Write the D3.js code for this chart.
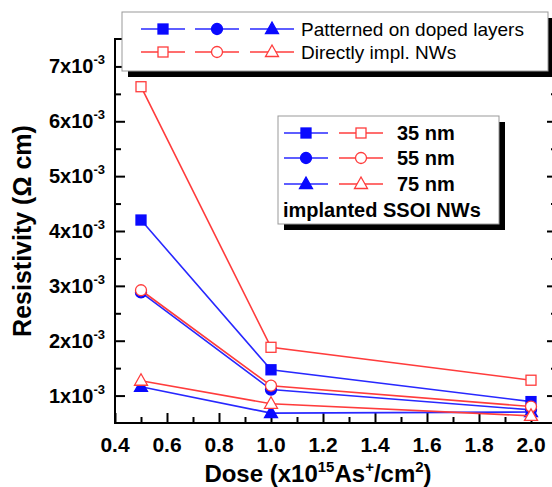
<!DOCTYPE html>
<html>
<head>
<meta charset="utf-8">
<script src="https://cdn.jsdelivr.net/npm/d3@7"></script>
<style>
  body { margin: 0; background: #fff; }
  svg { display: block; font-family: "Liberation Sans", Arial, sans-serif; }
</style>
</head>
<body>
<svg id="chart" width="552" height="487"></svg>
<script>
/******************** Data (resistivity in units of 1e-3 Ohm cm) ********************/
var dose = [0.5, 1.0, 2.0];
var pat35 = [4.20, 1.47, 0.89];
var pat55 = [2.88, 1.11, 0.74];
var pat75 = [1.16, 0.68, 0.70];
var dir35 = [6.63, 1.88, 1.28];
var dir55 = [2.92, 1.18, 0.80];
var dir75 = [1.27, 0.85, 0.63];

var xTicks = [0.4, 0.6, 0.8, 1.0, 1.2, 1.4, 1.6, 1.8, 2.0];
var yTicks = [1, 2, 3, 4, 5, 6, 7];

var BLUE = "#2828ff", BLUE_M = "#0a0aff", RED = "#ff3c3c";

var series = [
  { name: "p35", vals: pat35, color: BLUE, mark: "square", filled: true },
  { name: "p55", vals: pat55, color: BLUE, mark: "circle", filled: true },
  { name: "p75", vals: pat75, color: BLUE, mark: "triangle", filled: true },
  { name: "d35", vals: dir35, color: RED, mark: "square", filled: false },
  { name: "d55", vals: dir55, color: RED, mark: "circle", filled: false },
  { name: "d75", vals: dir75, color: RED, mark: "triangle", filled: false }
];

/******************** Scales ********************/
var svg = d3.select("#chart");
var pL = 115, pR = 557, pT = 39, pB = 423;
var x = d3.scaleLinear().domain([0.4, 2.1]).range([pL, pR]);
var y = d3.scaleLinear().domain([0.5, 7.5]).range([pB, pT]);

/******************** Frame and ticks ********************/
var minorX = d3.range(0.5, 2.1, 0.2).map(function(v){ return +v.toFixed(1); });
var minorY = d3.range(1.5, 7.5, 1);

function styleAxis(g) {
  g.select(".domain").remove();
  g.selectAll("line").attr("stroke", "#000").attr("stroke-width", 2);
  g.selectAll("text").remove();
}

svg.append("g").attr("transform", "translate(0," + pB + ")")
  .call(d3.axisBottom(x).tickValues(xTicks).tickSize(-10)).call(styleAxis);
svg.append("g").attr("transform", "translate(0," + pB + ")")
  .call(d3.axisBottom(x).tickValues(minorX).tickSize(-6)).call(styleAxis);
svg.append("g").attr("transform", "translate(" + pL + ",0)")
  .call(d3.axisLeft(y).tickValues(yTicks).tickSize(-10)).call(styleAxis);
svg.append("g").attr("transform", "translate(" + pL + ",0)")
  .call(d3.axisLeft(y).tickValues(minorY).tickSize(-6)).call(styleAxis);
svg.append("g").attr("transform", "translate(" + pR + ",0)")
  .call(d3.axisRight(y).tickValues(yTicks).tickSize(-10)).call(styleAxis);
svg.append("g").attr("transform", "translate(" + pR + ",0)")
  .call(d3.axisRight(y).tickValues(minorY).tickSize(-6)).call(styleAxis);

svg.append("rect")
  .attr("x", pL).attr("y", pT)
  .attr("width", pR - pL).attr("height", pB - pT)
  .attr("fill", "none").attr("stroke", "#000").attr("stroke-width", 2);

// tick labels
svg.append("g").selectAll("text").data(xTicks).enter().append("text")
  .attr("x", function(d){ return x(d); })
  .attr("y", 452)
  .attr("text-anchor", "middle")
  .style("font-size", "21px").style("font-weight", "bold")
  .text(function(d){ return d.toFixed(1); });

var yl = svg.append("g").selectAll("text").data(yTicks).enter().append("text")
  .attr("x", 105)
  .attr("y", function(d){ return y(d) + 7; })
  .attr("text-anchor", "end")
  .style("font-size", "20px").style("font-weight", "bold");
yl.append("tspan").text(function(d){ return d + "x10"; });
yl.append("tspan").attr("dy", -9).style("font-size", "13px").text("-3");

// axis titles
var xt = svg.append("text").attr("x", 318).attr("y", 482)
  .attr("text-anchor", "middle")
  .style("font-size", "24px").style("font-weight", "bold");
xt.append("tspan").text("Dose (x10");
xt.append("tspan").attr("dy", -10).style("font-size", "15px").text("15");
xt.append("tspan").attr("dy", 10).text("As");
xt.append("tspan").attr("dy", -10).style("font-size", "15px").text("+");
xt.append("tspan").attr("dy", 10).text("/cm");
xt.append("tspan").attr("dy", -10).style("font-size", "15px").text("2");
xt.append("tspan").attr("dy", 10).text(")");

svg.append("text")
  .attr("transform", "translate(31,231) rotate(-90)")
  .attr("text-anchor", "middle")
  .style("font-size", "25px").style("font-weight", "bold")
  .text("Resistivity (\u03A9 cm)");

/******************** Markers ********************/
function drawMarker(g, type, cx, cy, color, filled) {
  var fill = filled ? (color === BLUE ? BLUE_M : color) : "#fff";
  var stroke = filled ? (color === BLUE ? BLUE_M : color) : color;
  if (type === "square") {
    g.append("rect").attr("x", cx - 5).attr("y", cy - 5).attr("width", 10).attr("height", 10)
      .attr("fill", fill).attr("stroke", stroke).attr("stroke-width", 1.3);
  } else if (type === "circle") {
    g.append("circle").attr("cx", cx).attr("cy", cy).attr("r", 5.5)
      .attr("fill", fill).attr("stroke", stroke).attr("stroke-width", 1.3);
  } else {
    g.append("path")
      .attr("d", "M" + cx + "," + (cy - 7) + "L" + (cx + 6.5) + "," + (cy + 4.5) + "L" + (cx - 6.5) + "," + (cy + 4.5) + "Z")
      .attr("fill", fill).attr("stroke", stroke).attr("stroke-width", 1.3);
  }
}

/******************** Series ********************/
var line = d3.line()
  .x(function(d){ return x(d[0]); })
  .y(function(d){ return y(d[1]); });

var plot = svg.append("g");
series.forEach(function(s) {
  var pts = dose.map(function(d, i){ return [d, s.vals[i]]; });
  var g = plot.append("g").attr("class", s.name);
  g.append("path").attr("d", line(pts))
    .attr("fill", "none").attr("stroke", s.color).attr("stroke-width", 1.6);
  pts.forEach(function(p) {
    drawMarker(g, s.mark, x(p[0]), y(p[1]), s.color, s.filled);
  });
});

/******************** Legends ********************/
function legendBox(x0, y0, w, h) {
  svg.append("rect").attr("x", x0 + 6).attr("y", y0 + 6).attr("width", w).attr("height", h)
    .attr("fill", "#000");
  svg.append("rect").attr("x", x0).attr("y", y0).attr("width", w).attr("height", h)
    .attr("fill", "#fff").attr("stroke", "#999").attr("stroke-width", 1);
}
function legendSample(cx, cy, type, color, filled) {
  var g = svg.append("g");
  g.append("line").attr("x1", cx - 22).attr("x2", cx + 22).attr("y1", cy).attr("y2", cy)
    .attr("stroke", color).attr("stroke-width", 1.6);
  drawMarker(g, type, cx, cy, color, filled);
}

// legend 1
legendBox(122, 12, 426, 59);
var marks = ["square", "circle", "triangle"];
var l1x = [163, 217, 272];
marks.forEach(function(m, i) {
  legendSample(l1x[i], 29, m, BLUE, true);
  legendSample(l1x[i], 52, m, RED, false);
});
svg.append("text").attr("x", 301).attr("y", 36).style("font-size", "19px").text("Patterned on doped layers");
svg.append("text").attr("x", 301).attr("y", 59).style("font-size", "19px").text("Directly impl. NWs");

// legend 2
var sizes = ["35 nm", "55 nm", "75 nm"];
var l2y = [133, 158, 184];
legendBox(278, 116, 221, 108);
marks.forEach(function(m, i) {
  legendSample(306, l2y[i], m, BLUE, true);
  legendSample(361, l2y[i], m, RED, false);
  svg.append("text").attr("x", 397).attr("y", l2y[i] + 7)
    .style("font-size", "20px").style("font-weight", "bold").text(sizes[i]);
});
svg.append("text").attr("x", 283).attr("y", 217)
  .style("font-size", "20px").style("font-weight", "bold").text("implanted SSOI NWs");
</script>
</body>
</html>
